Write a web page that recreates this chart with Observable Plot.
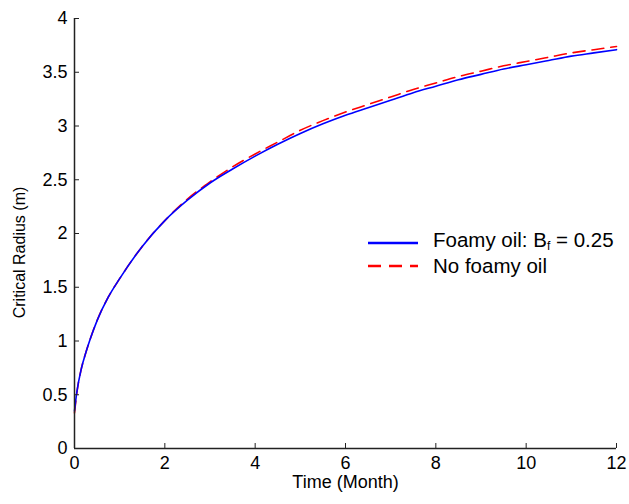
<!DOCTYPE html>
<html><head><meta charset="utf-8">
<script src="https://cdn.jsdelivr.net/npm/d3@7"></script>
<script src="https://cdn.jsdelivr.net/npm/@observablehq/plot@0.6"></script>
<style>
body{margin:0;background:#fff;}
#wrap{position:relative;width:629px;height:504px;font-family:Arial,"Liberation Sans",sans-serif;color:#000;}
#legend{position:absolute;left:368px;top:232px;font-size:20.5px;line-height:22.6px;}
#legend .row{display:flex;align-items:center;height:22.6px;white-space:nowrap;}
#legend svg{margin-right:15px;}
#legend sub{font-size:12px;vertical-align:-3px;}
</style></head>
<body>
<div id="wrap"><div id="chart"></div>
<div id="legend"></div></div>
<script>
const months = [0,0.05,0.15,0.25,0.35,0.5,0.75,1,1.5,2,2.5,3,3.5,4,4.5,5,5.5,6,6.5,7,7.5,8,8.5,9,9.5,10,10.5,11,11.5,12];
const radiusFoamy = [0.35,0.52,0.74,0.89,1.02,1.19,1.41,1.58,1.88,2.12,2.31,2.47,2.60,2.72,2.83,2.93,3.02,3.10,3.17,3.24,3.31,3.37,3.43,3.48,3.53,3.57,3.61,3.65,3.68,3.71];
const radiusNoFoamy = [0.33,0.51,0.74,0.89,1.02,1.19,1.41,1.58,1.88,2.12,2.32,2.48,2.62,2.74,2.85,2.96,3.05,3.13,3.20,3.27,3.34,3.40,3.46,3.51,3.56,3.60,3.64,3.68,3.71,3.74];
const xTicks = [0,2,4,6,8,10,12];
const yTicks = [0,0.5,1,1.5,2,2.5,3,3.5,4];
const xLabel = "Time (Month)";
const yLabel = "Critical Radius (m)";
const seriesNames = ["Foamy oil: B<sub>f</sub> = 0.25", "No foamy oil"];
const seriesColors = ["#0000ff", "#ff0000"];

const foamy = months.map((t,i)=>({t, r: radiusFoamy[i]}));
const noFoamy = months.map((t,i)=>({t, r: radiusNoFoamy[i]}));

const chart = Plot.plot({
  width: 629, height: 504,
  marginLeft: 74, marginRight: 13, marginTop: 18, marginBottom: 56,
  style: {fontFamily: 'Arial, "Liberation Sans", sans-serif', fontSize: "18px", color: "#000", background: "#fff"},
  x: {domain: [0,12]},
  y: {domain: [0,4]},
  marks: [
    Plot.line(noFoamy, {x:"t", y:"r", stroke: seriesColors[1], strokeWidth: 1.6, strokeDasharray: "12,7", curve: "monotone-x"}),
    Plot.line(foamy, {x:"t", y:"r", stroke: seriesColors[0], strokeWidth: 1.6, curve: "monotone-x"}),
    Plot.ruleX([0], {stroke:"#222", strokeWidth: 1.5}),
    Plot.ruleY([0], {stroke:"#222", strokeWidth: 1.5}),
    Plot.axisX(xTicks, {tickSize: -5, tickPadding: 13, fontSize: 18, tickFormat: d=>String(d), label: null, stroke:"#222"}),
    Plot.axisY(yTicks, {tickSize: -5, tickPadding: 12, fontSize: 18, tickFormat: d=>String(d), label: null, stroke:"#222"}),
    Plot.text([xLabel], {text: d=>d, frameAnchor: "bottom", dy: 39, fontSize: 18}),
    Plot.text([yLabel], {text: d=>d, frameAnchor: "left", textAnchor: "middle", dx: -55, dy: 19, rotate: -90, fontSize: 16})
  ]
});
document.getElementById("chart").appendChild(chart);

const legend = document.getElementById("legend");
seriesNames.forEach((name,i)=>{
  const row = document.createElement("div");
  row.className = "row";
  const dash = i===1 ? ' stroke-dasharray="13,8"' : '';
  row.innerHTML = `<svg width="50" height="6"><line x1="0" y1="3" x2="50" y2="3" stroke="${seriesColors[i]}" stroke-width="2.5"${dash}/></svg><span>${name}</span>`;
  legend.appendChild(row);
});
</script>
</body></html>
